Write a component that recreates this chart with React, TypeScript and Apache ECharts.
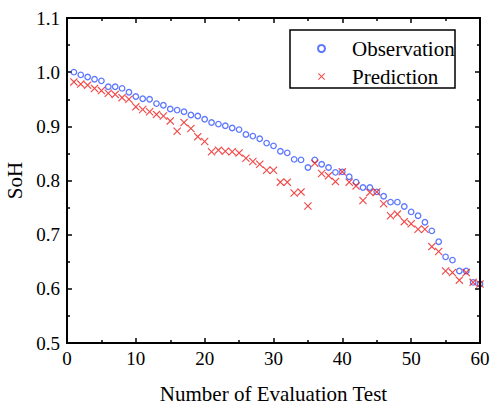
import React, { useEffect, useRef } from "react";
import * as echarts from "echarts";

const testIndex: number[] = Array.from({ length: 60 }, (_, i) => i + 1);

const observation: number[] = [
  1.0, 0.995, 0.991, 0.987, 0.984, 0.973, 0.973, 0.97, 0.963, 0.955,
  0.951, 0.95, 0.942, 0.939, 0.932, 0.93, 0.927, 0.921, 0.919, 0.913,
  0.907, 0.904, 0.901, 0.897, 0.894, 0.885, 0.882, 0.877, 0.869, 0.864,
  0.854, 0.851, 0.839, 0.838, 0.824, 0.838, 0.83, 0.824, 0.815, 0.816,
  0.807, 0.797, 0.787, 0.787, 0.779, 0.771, 0.76, 0.76, 0.752, 0.742,
  0.735, 0.723, 0.707, 0.687, 0.659, 0.653, 0.633, 0.633, 0.612, 0.609,
];

const prediction: number[] = [
  0.982, 0.978, 0.976, 0.97, 0.966, 0.961, 0.959, 0.953, 0.95, 0.936,
  0.931, 0.927, 0.922, 0.919, 0.91, 0.891, 0.907, 0.896, 0.881, 0.872,
  0.853, 0.856, 0.854, 0.853, 0.851, 0.841, 0.835, 0.83, 0.819, 0.819,
  0.797, 0.797, 0.777, 0.779, 0.753, 0.832, 0.813, 0.809, 0.798, 0.816,
  0.797, 0.79, 0.763, 0.778, 0.779, 0.757, 0.735, 0.738, 0.724, 0.72,
  0.71, 0.71, 0.678, 0.669, 0.633, 0.63, 0.616, 0.63, 0.612, 0.609,
];

const xTicks = { min: 0, max: 60, interval: 10 };
const yTicks = { min: 0.5, max: 1.1, interval: 0.1 };

const FONT = "'Liberation Serif', 'Times New Roman', serif";
const CROSS =
  "path://M0,1L1,0L5,4L9,0L10,1L6,5L10,9L9,10L5,6L1,10L0,9L4,5Z";

const GRID = { left: 67, right: 12, top: 18, bottom: 63 };
const W = 492;
const H = 406;

const mkLine = () => ({ show: true, onZero: false, lineStyle: { color: "#000", width: 2 } });
const mkTick = () => ({ show: true, inside: true, length: 5, lineStyle: { color: "#000", width: 1.5 } });
const mkMinor = () => ({ show: true, splitNumber: 2, length: 3, lineStyle: { color: "#000", width: 1.5 } });
const mkLabel = () => ({ color: "#000", fontSize: 19, fontFamily: FONT });
const mkName = () => ({ color: "#000", fontSize: 21, fontFamily: FONT });

export default function App() {
  const ref = useRef<HTMLDivElement>(null);

  useEffect(() => {
    if (!ref.current) return;
    const chart = echarts.init(ref.current, undefined, { renderer: "svg" });

    chart.setOption({
      animation: false,
      backgroundColor: "#fff",
      grid: { ...GRID, outerBoundsMode: "none" },
      xAxis: [
        {
          type: "value",
          ...xTicks,
          position: "bottom",
          axisLine: mkLine(),
          axisTick: mkTick(),
          minorTick: mkMinor(),
          splitLine: { show: false },
          axisLabel: { ...mkLabel(), margin: 6 },
          name: "Number of Evaluation Test",
          nameLocation: "middle",
          nameGap: 40,
          nameTextStyle: mkName(),
        },
        {
          type: "value",
          ...xTicks,
          position: "top",
          axisLine: mkLine(),
          axisTick: mkTick(),
          minorTick: mkMinor(),
          splitLine: { show: false },
          axisLabel: { show: false },
        },
      ],
      yAxis: [
        {
          type: "value",
          ...yTicks,
          position: "left",
          axisLine: mkLine(),
          axisTick: mkTick(),
          minorTick: mkMinor(),
          splitLine: { show: false },
          axisLabel: { ...mkLabel(), margin: 7, formatter: (v: number) => v.toFixed(1) },
          name: "SoH",
          nameLocation: "middle",
          nameGap: 38,
          nameTextStyle: mkName(),
        },
        {
          type: "value",
          ...yTicks,
          position: "right",
          axisLine: mkLine(),
          axisTick: mkTick(),
          minorTick: mkMinor(),
          splitLine: { show: false },
          axisLabel: { show: false },
        },
      ],
      legend: {
        orient: "vertical",
        left: 312,
        top: 33,
        itemGap: 7,
        itemWidth: 7,
        itemHeight: 7,
        textStyle: { color: "#000", fontSize: 21, fontFamily: FONT, padding: [0, 0, 0, 22] },
        data: ["Observation", "Prediction"],
      },
      graphic: [
        {
          type: "rect",
          silent: true,
          shape: {
            x: GRID.left,
            y: GRID.top,
            width: W - GRID.left - GRID.right,
            height: H - GRID.top - GRID.bottom,
          },
          style: { fill: "none", stroke: "#000", lineWidth: 2 },
          z: 100,
        },
        {
          type: "rect",
          shape: { x: 290, y: 30, width: 165, height: 58 },
          style: { fill: "none", stroke: "#000", lineWidth: 1.5 },
          z: 100,
        },
      ],
      series: [
        {
          name: "Observation",
          type: "scatter",
          xAxisIndex: 0,
          yAxisIndex: 0,
          symbol: "circle",
          symbolSize: 5.5,
          itemStyle: { color: "rgba(0,0,0,0)", borderColor: "#3355ff", borderWidth: 1.3 },
          data: testIndex.map((x, i) => [x, observation[i]]),
        },
        {
          name: "Prediction",
          type: "scatter",
          xAxisIndex: 0,
          yAxisIndex: 0,
          symbol: CROSS,
          symbolSize: 8,
          itemStyle: { color: "#ee1c1c" },
          data: testIndex.map((x, i) => [x, prediction[i]]),
        },
      ],
    });
    return () => chart.dispose();
  }, []);

  return (
    <div
      ref={ref}
      style={{ position: "absolute", left: 0, top: 0, width: W, height: H }}
    />
  );
}
